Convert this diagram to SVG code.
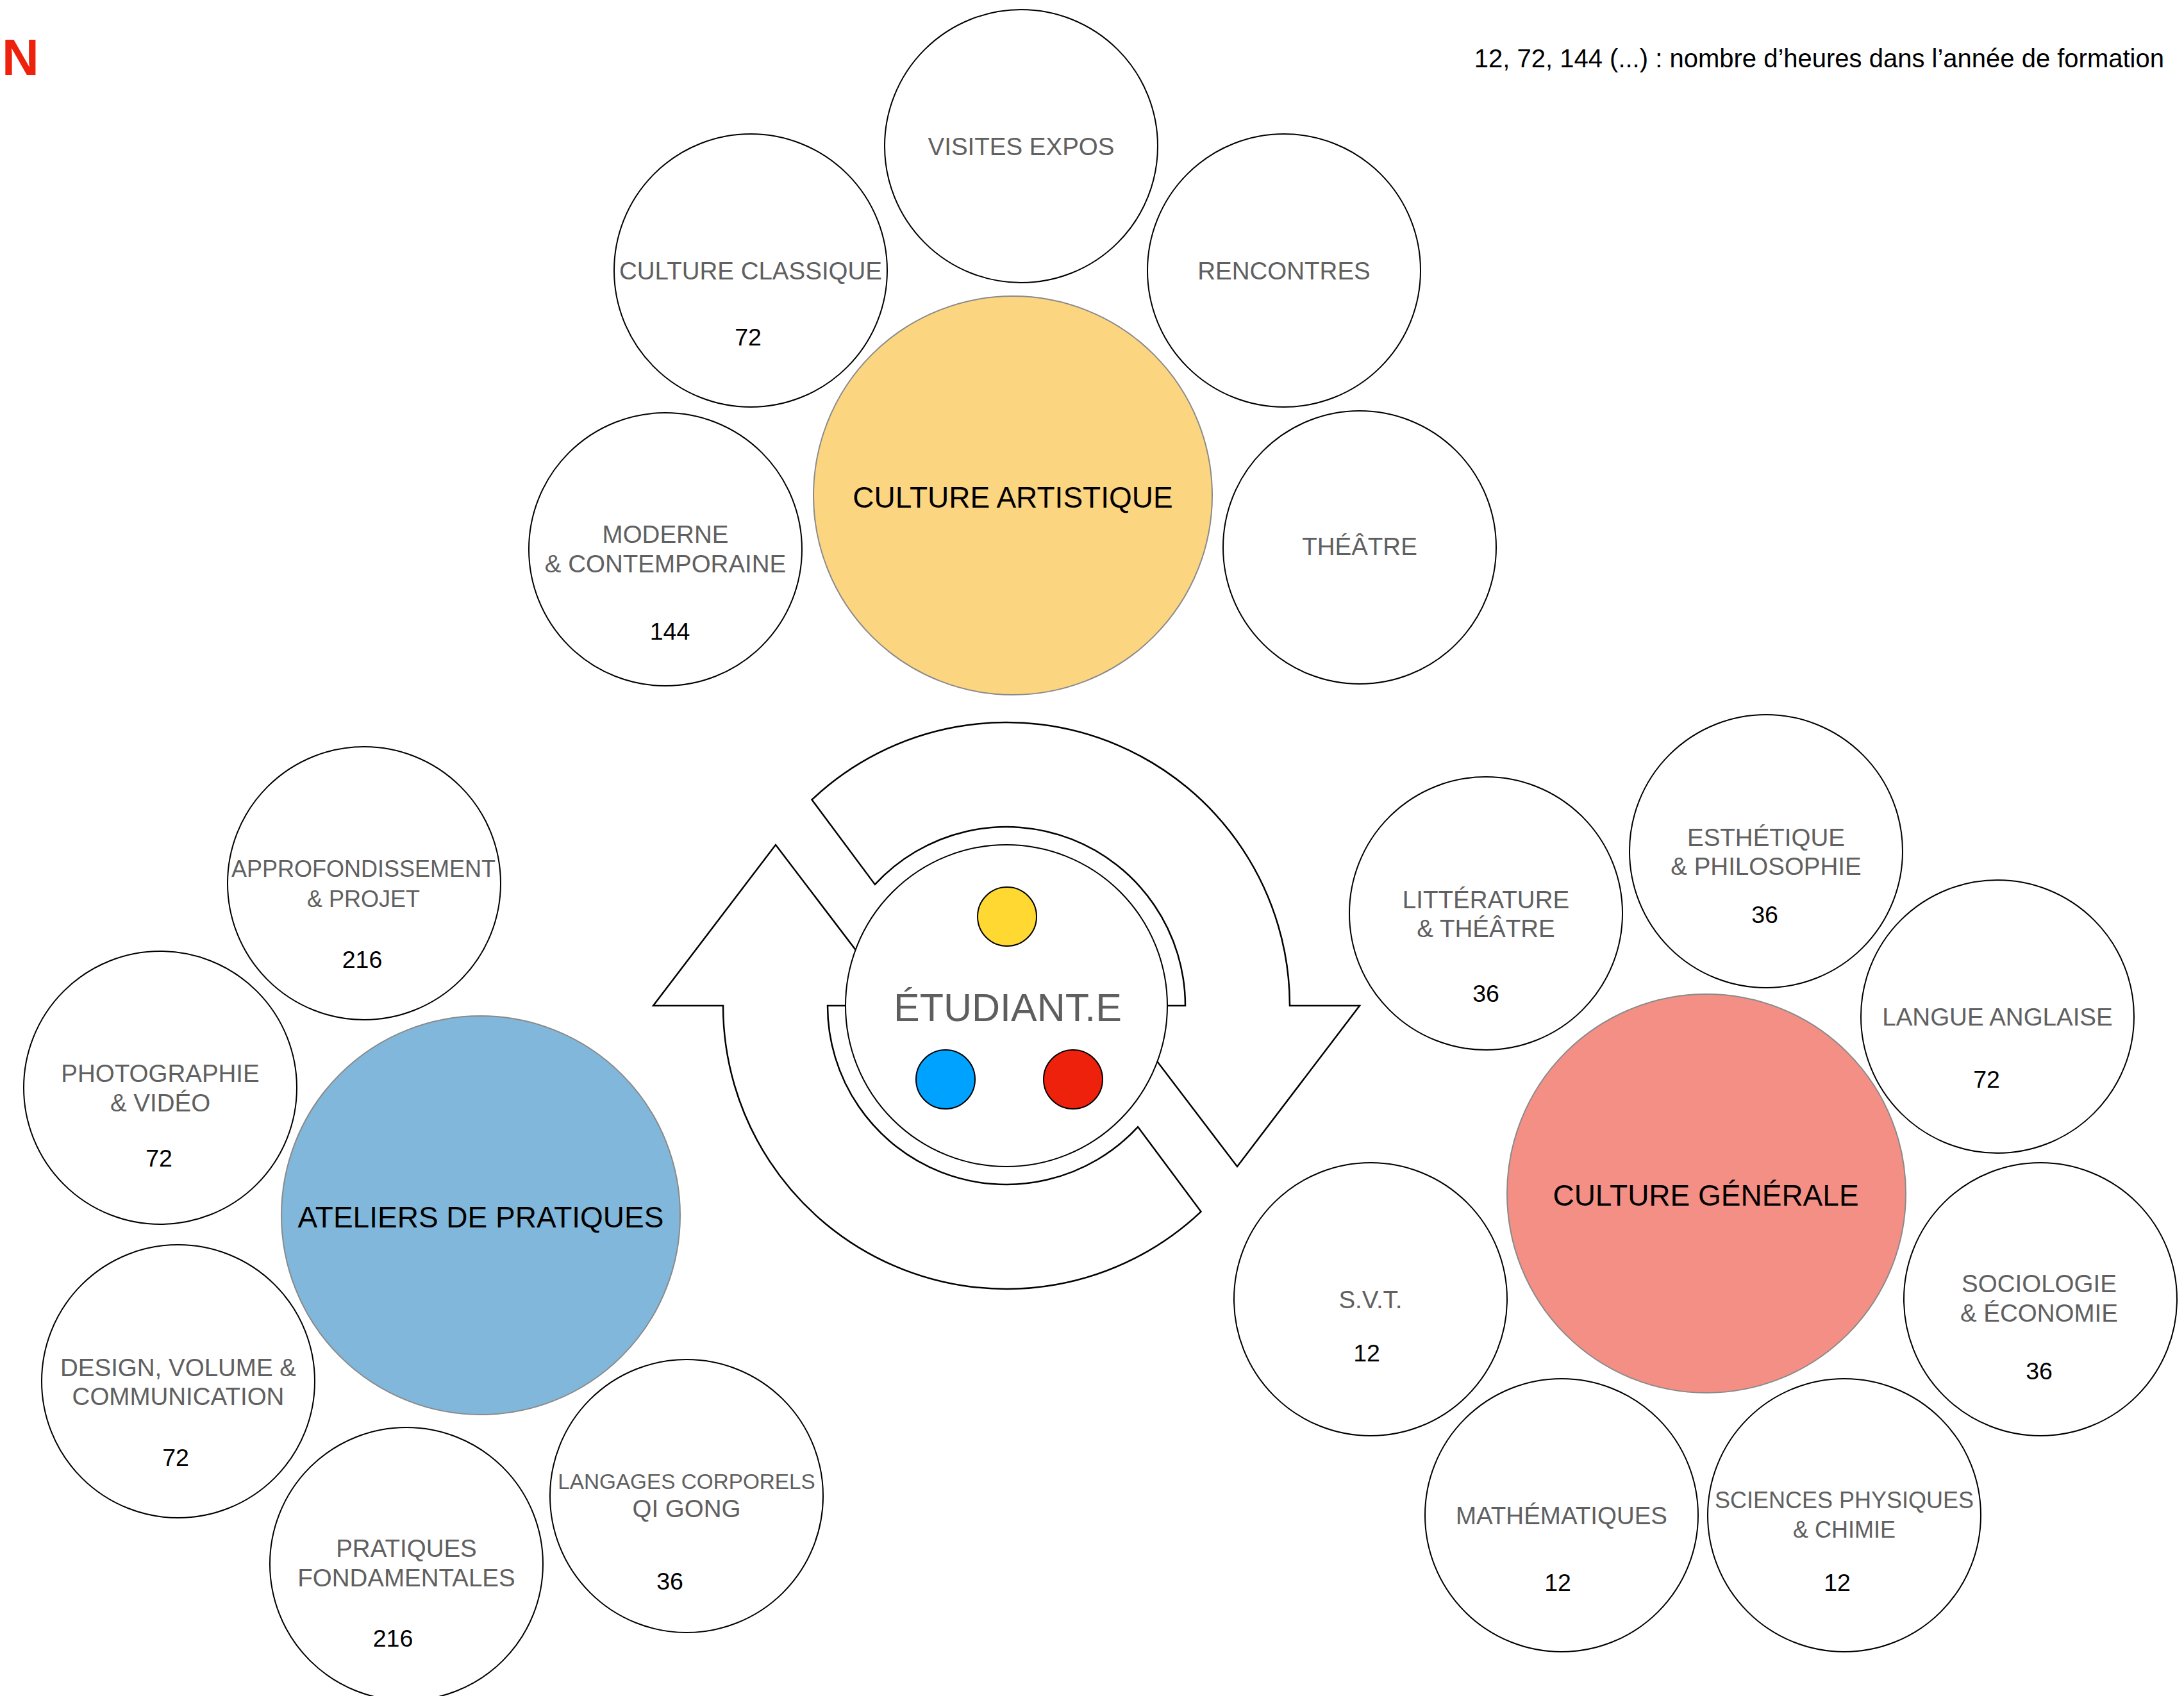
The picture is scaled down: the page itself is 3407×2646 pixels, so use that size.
<svg xmlns="http://www.w3.org/2000/svg" width="3407" height="2646" viewBox="0 0 3407 2646">
<style>
  text { font-family: "Liberation Sans", Arial, Helvetica, sans-serif; }
  .sc { fill: #ffffff; stroke: #000000; stroke-width: 2; }
  .bc { stroke: #8a8a8a; stroke-width: 2; }
  .lbl { font-size: 38.5px; fill: #606060; text-anchor: middle; }
  .fit { font-size: 36px; }
  .num { font-size: 37.5px; fill: #000000; text-anchor: middle; }
  .big { font-size: 46px; fill: #000000; text-anchor: middle; }
  .arrow { fill: #ffffff; stroke: #000000; stroke-width: 2.5; stroke-linejoin: miter; }
  .dot { stroke: #000000; stroke-width: 2; }
</style>
<defs>
  <path id="cycleArrow" d="M 1266.5 1247.7 A 442 442 0 0 1 2012 1569 L 2121 1569 L 1930 1820 L 1739 1569 L 1849 1569 A 279 279 0 0 0 1364.9 1379.9 Z"/>
</defs>
<rect x="0" y="0" width="3407" height="2646" fill="#ffffff"/>

<text x="3" y="117" font-size="80" font-weight="bold" fill="#EE220C">N</text>
<text x="3376" y="105" font-size="40" fill="#000000" text-anchor="end">12, 72, 144 (...) : nombre d’heures dans l’année de formation</text>

<!-- connectors: circular arrows -->
<g id="connectors">
  <use href="#cycleArrow" class="arrow"/>
  <use href="#cycleArrow" class="arrow" transform="rotate(180 1570 1569)"/>
</g>

<!-- Center -->
<g id="etudiant">
  <circle cx="1570" cy="1569" r="251" class="sc"/>
  <text x="1572" y="1593" font-size="61" fill="#5e5e5e" text-anchor="middle">ÉTUDIANT.E</text>
  <circle cx="1571" cy="1430" r="46" class="dot" fill="#FFD932"/>
  <circle cx="1475" cy="1684" r="46" class="dot" fill="#00A2FF"/>
  <circle cx="1674" cy="1684" r="46" class="dot" fill="#EE220C"/>
</g>

<!-- Top cluster -->
<g id="visites-expos">
  <circle cx="1593" cy="228" r="213" class="sc"/>
  <text x="1593" y="242" class="lbl">VISITES EXPOS</text>
</g>
<g id="culture-classique">
  <circle cx="1171" cy="422" r="213" class="sc"/>
  <text x="1171" y="436" class="lbl">CULTURE CLASSIQUE</text>
  <text x="1167" y="539" class="num">72</text>
</g>
<g id="rencontres">
  <circle cx="2003" cy="422" r="213" class="sc"/>
  <text x="2003" y="436" class="lbl">RENCONTRES</text>
</g>
<g id="moderne">
  <circle cx="1038" cy="857" r="213" class="sc"/>
  <text x="1038" y="847" class="lbl">MODERNE</text>
  <text x="1038" y="893" class="lbl">&amp; CONTEMPORAINE</text>
  <text x="1045" y="998" class="num">144</text>
</g>
<g id="theatre">
  <circle cx="2121" cy="854" r="213" class="sc"/>
  <text x="2121" y="866" class="lbl">THÉÂTRE</text>
</g>
<g id="culture-artistique">
  <circle cx="1580" cy="773" r="311" class="bc" fill="#FCD581"/>
  <text x="1580" y="792" class="big">CULTURE ARTISTIQUE</text>
</g>

<!-- Left cluster -->
<g id="approfondissement">
  <circle cx="568" cy="1378" r="213" class="sc"/>
  <text x="567" y="1368" class="lbl fit">APPROFONDISSEMENT</text>
  <text x="567" y="1415" class="lbl fit">&amp; PROJET</text>
  <text x="565" y="1510" class="num">216</text>
</g>
<g id="photographie">
  <circle cx="250" cy="1697" r="213" class="sc"/>
  <text x="250" y="1688" class="lbl">PHOTOGRAPHIE</text>
  <text x="250" y="1734" class="lbl">&amp; VIDÉO</text>
  <text x="248" y="1820" class="num">72</text>
</g>
<g id="design">
  <circle cx="278" cy="2155" r="213" class="sc"/>
  <text x="278" y="2147" class="lbl">DESIGN, VOLUME &amp;</text>
  <text x="278" y="2192" class="lbl">COMMUNICATION</text>
  <text x="274" y="2287" class="num">72</text>
</g>
<g id="pratiques-fondamentales">
  <circle cx="634" cy="2440" r="213" class="sc"/>
  <text x="634" y="2429" class="lbl">PRATIQUES</text>
  <text x="634" y="2475" class="lbl">FONDAMENTALES</text>
  <text x="613" y="2569" class="num">216</text>
</g>
<g id="langages-corporels">
  <circle cx="1071" cy="2334" r="213" class="sc"/>
  <text x="1071" y="2323" class="lbl" style="font-size:33.3px">LANGAGES CORPORELS</text>
  <text x="1071" y="2367" class="lbl">QI GONG</text>
  <text x="1045" y="2480" class="num">36</text>
</g>
<g id="ateliers">
  <circle cx="750" cy="1896" r="311" class="bc" fill="#80B7DA"/>
  <text x="750" y="1915" class="big">ATELIERS DE PRATIQUES</text>
</g>

<!-- Right cluster -->
<g id="litterature">
  <circle cx="2318" cy="1425" r="213" class="sc"/>
  <text x="2318" y="1417" class="lbl">LITTÉRATURE</text>
  <text x="2318" y="1462" class="lbl">&amp; THÉÂTRE</text>
  <text x="2318" y="1563" class="num">36</text>
</g>
<g id="esthetique">
  <circle cx="2755" cy="1328" r="213" class="sc"/>
  <text x="2755" y="1320" class="lbl">ESTHÉTIQUE</text>
  <text x="2755" y="1365" class="lbl">&amp; PHILOSOPHIE</text>
  <text x="2753" y="1440" class="num">36</text>
</g>
<g id="langue-anglaise">
  <circle cx="3116" cy="1586" r="213" class="sc"/>
  <text x="3116" y="1600" class="lbl">LANGUE ANGLAISE</text>
  <text x="3099" y="1697" class="num">72</text>
</g>
<g id="svt">
  <circle cx="2138" cy="2027" r="213" class="sc"/>
  <text x="2138" y="2041" class="lbl">S.V.T.</text>
  <text x="2132" y="2124" class="num">12</text>
</g>
<g id="sociologie">
  <circle cx="3183" cy="2027" r="213" class="sc"/>
  <text x="3181" y="2016" class="lbl">SOCIOLOGIE</text>
  <text x="3181" y="2062" class="lbl">&amp; ÉCONOMIE</text>
  <text x="3181" y="2152" class="num">36</text>
</g>
<g id="mathematiques">
  <circle cx="2436" cy="2364" r="213" class="sc"/>
  <text x="2436" y="2378" class="lbl">MATHÉMATIQUES</text>
  <text x="2430" y="2482" class="num">12</text>
</g>
<g id="sciences-physiques">
  <circle cx="2877" cy="2364" r="213" class="sc"/>
  <text x="2877" y="2353" class="lbl fit">SCIENCES PHYSIQUES</text>
  <text x="2877" y="2399" class="lbl fit">&amp; CHIMIE</text>
  <text x="2866" y="2482" class="num">12</text>
</g>
<g id="culture-generale">
  <circle cx="2662" cy="1862" r="311" class="bc" fill="#F48F85"/>
  <text x="2661" y="1881" class="big">CULTURE GÉNÉRALE</text>
</g>
</svg>
